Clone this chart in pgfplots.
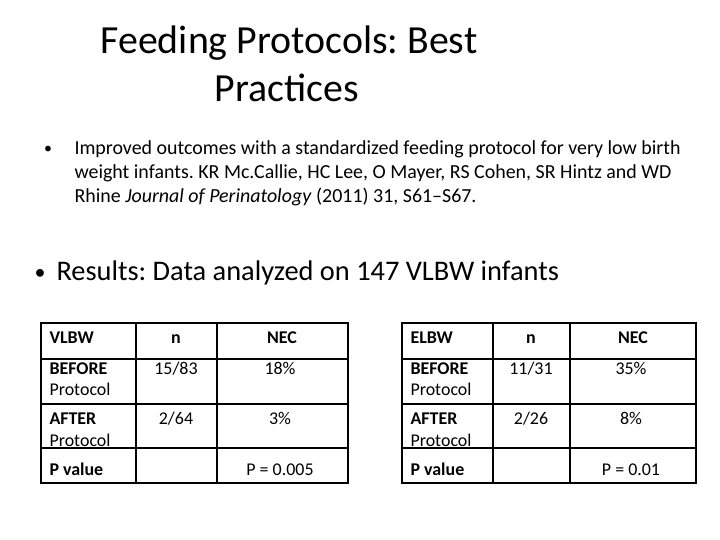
\documentclass[border=0pt]{standalone}
\usepackage{fontspec}
\setmainfont{Carlito}
\usepackage{pgfplots}
\pgfplotsset{compat=1.18}
\frenchspacing

\newcommand{\cell}[1]{\fontsize{18}{20}\selectfont #1}

\begin{document}
\begin{tikzpicture}
\begin{axis}[
    width=720bp, height=540bp,
    scale only axis,
    hide axis,
    xmin=0, xmax=720,
    ymin=0, ymax=540,
    y dir=reverse,
    clip=false,
]
% page background
\path[fill=white] (axis cs:0,0) rectangle (axis cs:720,540);

% title
\node[anchor=base, font=\fontsize{40}{48}\selectfont] at (axis cs:289,54) {Feeding Protocols: Best};
\node[anchor=base, font=\fontsize{40}{48}\selectfont] at (axis cs:287,102) {Practices};

% first bullet
\node[anchor=base, font=\fontsize{16}{24}\selectfont] at (axis cs:48,154) {•};
\node[anchor=base west, font=\fontsize{20}{24}\selectfont] at (axis cs:71,155) {Improved outcomes with a standardized feeding protocol for very low birth};
\node[anchor=base west, font=\fontsize{20}{24}\selectfont] at (axis cs:71,179) {weight infants. KR Mc.Callie, HC Lee, O Mayer, RS Cohen, SR Hintz and WD};
\node[anchor=base west, font=\fontsize{20}{24}\selectfont] at (axis cs:71,203) {Rhine \textit{Journal of Perinatology} (2011) 31, S61--S67.};

% second bullet
\node[anchor=base, font=\fontsize{22}{29}\selectfont] at (axis cs:40,280) {•};
\node[anchor=base west, font=\fontsize{28.5}{34}\selectfont] at (axis cs:53,281) {Results: Data analyzed on 147 VLBW infants};

% ---- table 1 (VLBW) ----
\draw[line width=1.5bp] (axis cs:41,323) rectangle (axis cs:348,483);
\draw[line width=1.5bp] (axis cs:41,359) -- (axis cs:348,359);
\draw[line width=1.5bp] (axis cs:41,404) -- (axis cs:348,404);
\draw[line width=1.5bp] (axis cs:41,448) -- (axis cs:348,448);
\draw[line width=1.5bp] (axis cs:136,323) -- (axis cs:136,483);
\draw[line width=1.5bp] (axis cs:217,323) -- (axis cs:217,483);

\node[anchor=base west] at (axis cs:46,343) {\cell{\textbf{VLBW}}};
\node[anchor=base] at (axis cs:176,343) {\cell{\textbf{n}}};
\node[anchor=base] at (axis cs:282,343) {\cell{\textbf{NEC}}};
\node[anchor=base west] at (axis cs:46,374) {\cell{\textbf{BEFORE}}};
\node[anchor=base west] at (axis cs:46,395) {\cell{Protocol}};
\node[anchor=base] at (axis cs:176,374) {\cell{15/83}};
\node[anchor=base] at (axis cs:280,374) {\cell{18\%}};
\node[anchor=base west] at (axis cs:46,424) {\cell{\textbf{AFTER}}};
\node[anchor=base west] at (axis cs:46,446) {\cell{Protocol}};
\node[anchor=base] at (axis cs:176,424) {\cell{2/64}};
\node[anchor=base] at (axis cs:280,424) {\cell{3\%}};
\node[anchor=base west] at (axis cs:46,475) {\cell{\textbf{P value}}};
\node[anchor=base] at (axis cs:280,475) {\cell{P = 0.005}};

% ---- table 2 (ELBW) ----
\draw[line width=1.5bp] (axis cs:402,323) rectangle (axis cs:696,483);
\draw[line width=1.5bp] (axis cs:402,359) -- (axis cs:696,359);
\draw[line width=1.5bp] (axis cs:402,404) -- (axis cs:696,404);
\draw[line width=1.5bp] (axis cs:402,448) -- (axis cs:696,448);
\draw[line width=1.5bp] (axis cs:493,323) -- (axis cs:493,483);
\draw[line width=1.5bp] (axis cs:570,323) -- (axis cs:570,483);

\node[anchor=base west] at (axis cs:407,343) {\cell{\textbf{ELBW}}};
\node[anchor=base] at (axis cs:531,343) {\cell{\textbf{n}}};
\node[anchor=base] at (axis cs:633,343) {\cell{\textbf{NEC}}};
\node[anchor=base west] at (axis cs:407,374) {\cell{\textbf{BEFORE}}};
\node[anchor=base west] at (axis cs:407,395) {\cell{Protocol}};
\node[anchor=base] at (axis cs:531,374) {\cell{11/31}};
\node[anchor=base] at (axis cs:631,374) {\cell{35\%}};
\node[anchor=base west] at (axis cs:407,424) {\cell{\textbf{AFTER}}};
\node[anchor=base west] at (axis cs:407,446) {\cell{Protocol}};
\node[anchor=base] at (axis cs:531,424) {\cell{2/26}};
\node[anchor=base] at (axis cs:631,424) {\cell{8\%}};
\node[anchor=base west] at (axis cs:407,475) {\cell{\textbf{P value}}};
\node[anchor=base] at (axis cs:631,475) {\cell{P = 0.01}};
\end{axis}
\end{tikzpicture}
\end{document}
